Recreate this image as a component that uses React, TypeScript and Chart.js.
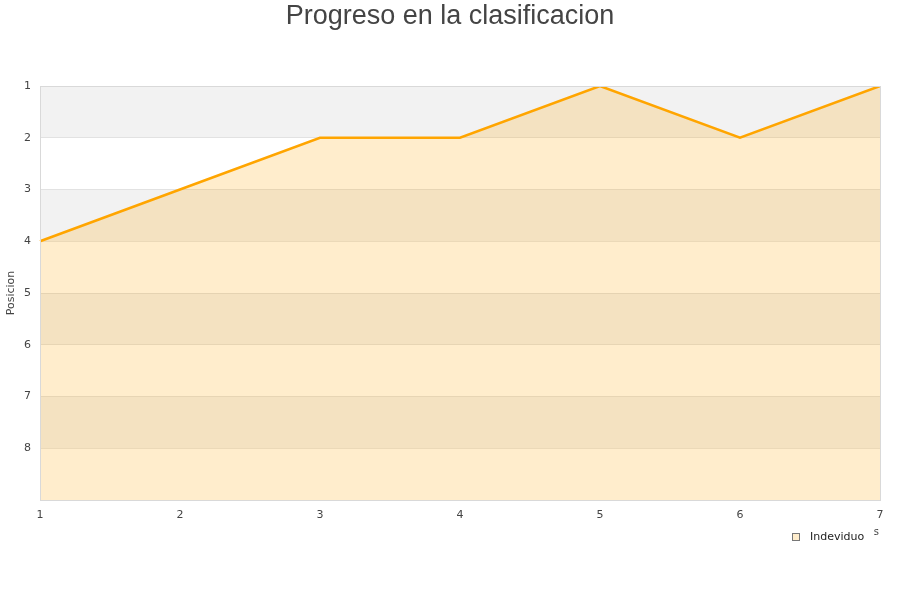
import React, { useEffect, useRef } from "react";
import { Chart, registerables } from "chart.js";

Chart.register(...registerables);

const TITLE = "Progreso en la clasificacion";
const JORNADAS = ["1", "2", "3", "4", "5", "6", "7"];
const POSICIONES = [4, 3, 2, 2, 1, 2, 1];
const SERIES_NAME = "Indeviduo";
const Y_TITLE = "Posicion";
const X_TITLE = "Jornadas";
const Y_MIN = 1;
const Y_MAX = 9;

const decorPlugin = {
  id: "decor",
  beforeDraw(chart: any) {
    const { ctx, chartArea } = chart;
    const y = chart.scales.y;
    ctx.save();
    ctx.fillStyle = "#ffffff";
    ctx.fillRect(0, 0, chart.width, chart.height);
    for (let v = Y_MIN; v < Y_MAX; v++) {
      const y0 = y.getPixelForValue(v);
      const y1 = y.getPixelForValue(v + 1);
      ctx.fillStyle = (v - Y_MIN) % 2 === 0 ? "#f2f2f2" : "#ffffff";
      ctx.fillRect(chartArea.left, y0, chartArea.right - chartArea.left, y1 - y0);
    }
    ctx.restore();
  },
  afterDraw(chart: any) {
    const { ctx, chartArea } = chart;
    ctx.save();
    // border
    ctx.strokeStyle = "#d9d9d9";
    ctx.lineWidth = 1;
    ctx.strokeRect(
      Math.round(chartArea.left) + 0.5,
      Math.round(chartArea.top) + 0.5,
      Math.round(chartArea.right - chartArea.left),
      Math.round(chartArea.bottom - chartArea.top)
    );
    // title
    ctx.fillStyle = "#444444";
    ctx.font = "27px 'Liberation Sans', Arial, sans-serif";
    ctx.textAlign = "center";
    ctx.textBaseline = "middle";
    ctx.fillText(TITLE, 450, 17);
    // y title
    ctx.save();
    ctx.translate(11, (chartArea.top + chartArea.bottom) / 2);
    ctx.rotate(-Math.PI / 2);
    ctx.font = "11px 'DejaVu Sans', sans-serif";
    ctx.fillStyle = "#444444";
    ctx.textAlign = "center";
    ctx.textBaseline = "middle";
    ctx.fillText(Y_TITLE, 0, 0);
    ctx.restore();
    // x title
    ctx.font = "10px 'DejaVu Sans', sans-serif";
    ctx.fillStyle = "#444444";
    ctx.textAlign = "right";
    ctx.textBaseline = "middle";
    ctx.fillText(X_TITLE, chartArea.right - 1, 532);
    // legend
    ctx.fillStyle = "#ffffff";
    ctx.fillRect(786, 527, 87, 22);
    ctx.fillStyle = "rgba(255,165,0,0.2)";
    ctx.fillRect(792.5, 533.5, 7, 7);
    ctx.strokeStyle = "#777777";
    ctx.lineWidth = 1;
    ctx.strokeRect(792.5, 533.5, 7, 7);
    ctx.fillStyle = "#222222";
    ctx.font = "11px 'DejaVu Sans', sans-serif";
    ctx.textAlign = "left";
    ctx.textBaseline = "middle";
    ctx.fillText(SERIES_NAME, 810, 537);
    ctx.restore();
  },
};

export default function App() {
  const ref = useRef<HTMLCanvasElement | null>(null);
  useEffect(() => {
    if (!ref.current) return;
    const chart = new Chart(ref.current, {
      type: "line",
      data: {
        labels: JORNADAS,
        datasets: [
          {
            label: SERIES_NAME,
            data: POSICIONES,
            borderColor: "#ffa500",
            borderWidth: 2.5,
            backgroundColor: "rgba(255,165,0,0.2)",
            fill: { value: Y_MAX },
            pointRadius: 0,
            tension: 0,
          },
        ],
      },
      options: {
        responsive: false,
        animation: false,
        layout: { padding: { left: 0, right: 20, top: 86, bottom: 0 } },
        plugins: {
          legend: { display: false },
          title: { display: false },
          tooltip: { enabled: false },
        },
        scales: {
          x: {
            type: "category",
            offset: false,
            grid: { display: false, drawTicks: false },
            border: { display: false },
            ticks: {
              color: "#444444",
              font: { family: "'DejaVu Sans', sans-serif", size: 11 },
              padding: 9,
              maxRotation: 0,
              autoSkip: false,
            },
            afterFit(scale: any) {
              scale.height = 100;
            },
          },
          y: {
            type: "linear",
            reverse: true,
            min: Y_MIN,
            max: Y_MAX,
            grid: { color: "rgba(200,200,200,0.45)", drawTicks: false, lineWidth: 1 },
            border: { display: false },
            ticks: {
              stepSize: 1,
              color: "#444444",
              font: { family: "'DejaVu Sans', sans-serif", size: 11 },
              padding: 9,
              callback: (v: any) => (v === Y_MAX ? "" : String(v)),
            },
            afterFit(scale: any) {
              scale.width = 40;
            },
          },
        },
      },
      plugins: [decorPlugin],
    });
    return () => chart.destroy();
  }, []);
  return (
    <div style={{ position: "fixed", left: 0, top: 0, width: 900, height: 600, background: "#fff" }}>
      <canvas ref={ref} width={900} height={600} style={{ width: 900, height: 600 }} />
    </div>
  );
}
